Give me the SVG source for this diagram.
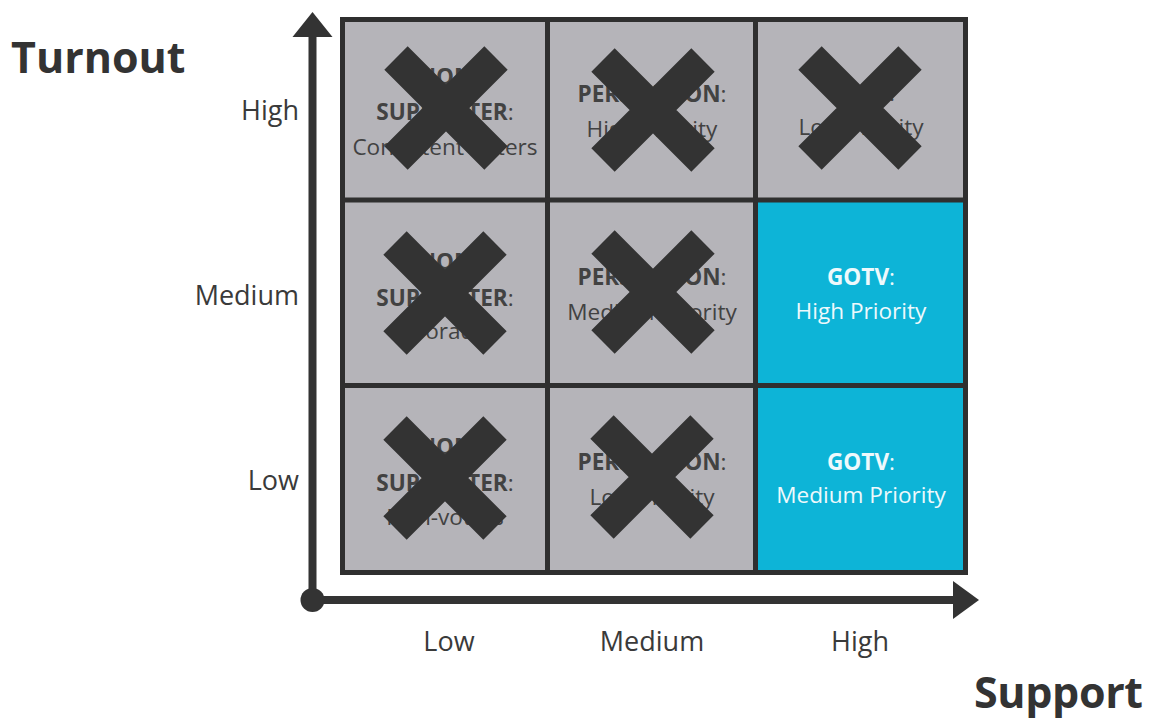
<svg xmlns="http://www.w3.org/2000/svg" width="1149" height="719" viewBox="0 0 1149 719">
  <style>
    .lbl { font-family: "Open Sans", "Liberation Sans", sans-serif; font-size: 27px; fill: #3a3a3a; }
    .title { font-family: "Open Sans", "Liberation Sans", sans-serif; font-size: 43px; font-weight: bold; fill: #333333; }
    .ct { font-family: "Open Sans", "Liberation Sans", sans-serif; font-size: 22.6px; fill: #424242; text-anchor: middle; }
    .ct .b { font-weight: bold; }
    .w { fill: #eef9fc; }
    .gray { fill: #b5b4b9; }
    .cyan { fill: #0db4d7; }
    .grid { stroke: #2f2f2f; stroke-width: 5; fill: none; }
    .axis { stroke: #333333; stroke-width: 8; fill: none; }
  </style>
  <defs>
    <g id="xmark">
      <path d="M-50,-50 L50,50 M50,-50 L-50,50" stroke="#333333" stroke-width="33" stroke-linecap="butt" fill="none"/>
    </g>
  </defs>
  <rect width="1149" height="719" fill="#ffffff"/>

  <text class="title" x="11" y="73">Turnout</text>
  <text class="title" x="974" y="708" textLength="169">Support</text>

  <g id="y-labels" class="lbl" text-anchor="end">
    <text x="299" y="120">High</text>
    <text x="299" y="305">Medium</text>
    <text x="299" y="490">Low</text>
  </g>
  <g id="x-labels" class="lbl" text-anchor="middle">
    <text x="449" y="651">Low</text>
    <text x="652" y="651">Medium</text>
    <text x="860" y="651">High</text>
  </g>

  <g id="cell-r1c1">
    <rect class="gray" x="342" y="19" width="206" height="181"/>
    <text class="ct" x="445"><tspan class="b" x="445" y="85">NON</tspan><tspan class="b" x="445" y="120">SUPPORTER<tspan font-weight="normal">:</tspan></tspan><tspan x="445" y="155">Consistent Voters</tspan></text>
    <use href="#xmark" x="446" y="108"/>
  </g>
  <g id="cell-r1c2">
    <rect class="gray" x="548" y="19" width="208" height="181"/>
    <text class="ct"><tspan class="b" x="652" y="102">PERSUASION<tspan font-weight="normal">:</tspan></tspan><tspan x="652" y="137">High Priority</tspan></text>
    <use href="#xmark" x="653" y="110"/>
  </g>
  <g id="cell-r1c3">
    <rect class="gray" x="756" y="19" width="210" height="181"/>
    <text class="ct"><tspan class="b" x="861" y="101">GOTV<tspan font-weight="normal">:</tspan></tspan><tspan x="861" y="135">Low Priority</tspan></text>
    <use href="#xmark" x="860" y="108"/>
  </g>

  <g id="cell-r2c1">
    <rect class="gray" x="342" y="200" width="206" height="186"/>
    <text class="ct"><tspan class="b" x="445" y="270">NON</tspan><tspan class="b" x="445" y="306">SUPPORTER<tspan font-weight="normal">:</tspan></tspan><tspan x="445" y="339">Sporadic</tspan></text>
    <use href="#xmark" x="445" y="293"/>
  </g>
  <g id="cell-r2c2">
    <rect class="gray" x="548" y="200" width="208" height="186"/>
    <text class="ct"><tspan class="b" x="652" y="285">PERSUASION<tspan font-weight="normal">:</tspan></tspan><tspan x="652" y="320">Medium Priority</tspan></text>
    <use href="#xmark" x="653" y="292"/>
  </g>
  <g id="cell-r2c3">
    <rect class="cyan" x="756" y="200" width="210" height="186"/>
    <text class="ct w"><tspan class="b" x="861" y="285">GOTV<tspan font-weight="normal">:</tspan></tspan><tspan x="861" y="319">High Priority</tspan></text>
  </g>

  <g id="cell-r3c1">
    <rect class="gray" x="342" y="386" width="206" height="187"/>
    <text class="ct"><tspan class="b" x="445" y="455">NON</tspan><tspan class="b" x="445" y="491">SUPPORTER<tspan font-weight="normal">:</tspan></tspan><tspan x="445" y="525">Non-voters</tspan></text>
    <use href="#xmark" x="445" y="478"/>
  </g>
  <g id="cell-r3c2">
    <rect class="gray" x="548" y="386" width="208" height="187"/>
    <text class="ct"><tspan class="b" x="652" y="470">PERSUASION<tspan font-weight="normal">:</tspan></tspan><tspan x="652" y="505">Low Priority</tspan></text>
    <use href="#xmark" x="652" y="477"/>
  </g>
  <g id="cell-r3c3">
    <rect class="cyan" x="756" y="386" width="210" height="187"/>
    <text class="ct w"><tspan class="b" x="861" y="470">GOTV<tspan font-weight="normal">:</tspan></tspan><tspan x="861" y="503">Medium Priority</tspan></text>
  </g>

  <g id="grid" class="grid">
    <rect x="342.5" y="19.5" width="623" height="553"/>
    <line x1="547.5" y1="19.5" x2="547.5" y2="572.5"/>
    <line x1="755.5" y1="19.5" x2="755.5" y2="572.5"/>
    <line x1="342.5" y1="200" x2="965.5" y2="200"/>
    <line x1="342.5" y1="385.5" x2="965.5" y2="385.5"/>
  </g>

  <g id="connectors">
    <line class="axis" x1="312.5" y1="600" x2="312.5" y2="34"/>
    <polygon points="312.5,12 292.5,37 332.5,37" fill="#333333"/>
    <line class="axis" x1="312.5" y1="600" x2="956" y2="600"/>
    <polygon points="979,600 953,581 953,619" fill="#333333"/>
    <circle cx="312.5" cy="600" r="12" fill="#333333"/>
  </g>
</svg>
